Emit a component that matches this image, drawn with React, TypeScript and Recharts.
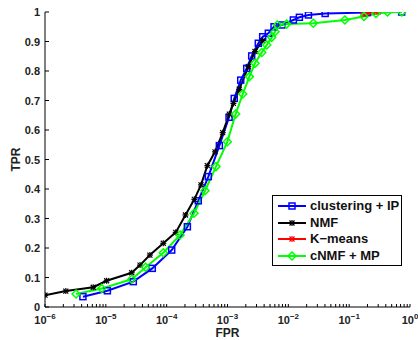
import React from 'react';
import { LineChart, Line, XAxis, YAxis, Legend } from 'recharts';

const blueX = [4.2e-6, 1.06e-5, 2.83e-5, 5.8e-5, 1.21e-4, 2.19e-4, 3.31e-4, 4.84e-4, 7.35e-4, 1.06e-3, 1.29e-3, 1.65e-3, 2.07e-3, 2.5e-3, 3.21e-3, 3.79e-3, 4.69e-3, 5.82e-3, 7.8e-3, 0.0121, 0.0152, 0.0214, 0.0403, 0.2, 0.73];
const blueY = [0.035, 0.055, 0.086, 0.131, 0.193, 0.272, 0.36, 0.442, 0.547, 0.643, 0.707, 0.769, 0.809, 0.851, 0.894, 0.916, 0.928, 0.95, 0.956, 0.973, 0.982, 0.99, 0.995, 0.998, 1.0];

const blackX = [1e-6, 2.2e-6, 6.2e-6, 1.03e-5, 2.66e-5, 3.65e-5, 5.3e-5, 8.8e-5, 1.41e-4, 2.04e-4, 2.85e-4, 3.67e-4, 4.66e-4, 6.24e-4, 8.34e-4, 1.07e-3, 1.25e-3, 1.56e-3, 2.2e-3, 2.83e-3, 3.79e-3];
const blackY = [0.04, 0.054, 0.067, 0.089, 0.116, 0.142, 0.176, 0.216, 0.253, 0.312, 0.365, 0.414, 0.479, 0.526, 0.591, 0.654, 0.69, 0.738, 0.815, 0.866, 0.903];

const redX = [0.17, 0.2, 0.24, 0.3];
const redY = [0.993, 0.997, 1.0, 1.0];

const greenX = [3.24e-6, 8.55e-6, 2.66e-5, 4.52e-5, 8.8e-5, 1.66e-4, 2.82e-4, 4.27e-4, 6.46e-4, 9.93e-4, 1.36e-3, 1.78e-3, 2.29e-3, 2.83e-3, 3.66e-3, 4.42e-3, 5.33e-3, 6.05e-3, 6.6e-3, 9.4e-3, 0.0257, 0.0851, 0.175, 0.276, 0.427, 0.731];
const greenY = [0.044, 0.063, 0.094, 0.135, 0.184, 0.244, 0.318, 0.394, 0.476, 0.56, 0.654, 0.722, 0.781, 0.826, 0.863, 0.888, 0.914, 0.933, 0.956, 0.959, 0.962, 0.973, 0.985, 0.995, 1.0, 1.0];

const seriesNames = ['clustering + IP', 'NMF', 'K\u2212means', 'cNMF + MP'];
const seriesColors = ['#0000ff', '#000000', '#ff0000', '#00ff00'];

const xMajorTicks = [1e-6, 1e-5, 1e-4, 1e-3, 1e-2, 1e-1, 1];
const xMinorMultipliers = [2, 3, 4, 5, 6, 7, 8, 9];
const yTicks = [0, 0.1, 0.2, 0.3, 0.4, 0.5, 0.6, 0.7, 0.8, 0.9, 1];

const xTicks: number[] = [];
xMajorTicks.forEach((d, i) => {
  xTicks.push(d);
  if (i < xMajorTicks.length - 1) xMinorMultipliers.forEach((m) => xTicks.push(m * d));
});

const zip = (xs: number[], ys: number[]) => xs.map((x, i) => ({ x, y: ys[i] }));
const blueData = zip(blueX, blueY);
const blackData = zip(blackX, blackY);
const redData = zip(redX, redY);
const greenData = zip(greenX, greenY);

const FONT = '"Liberation Sans", Arial, Helvetica, sans-serif';

const XTick = (props: any) => {
  const { x, y, payload } = props;
  const lv = Math.log10(payload.value);
  const e = Math.round(lv);
  if (Math.abs(lv - e) > 1e-6) return <g />;
  const exp = e === 0 ? '0' : '\u2212' + Math.abs(e);
  return (
    <text x={x} y={y} textAnchor="middle" fontFamily={FONT} fontWeight="bold" fontSize={11} fill="#222">
      <tspan>10</tspan>
      <tspan dy={-5} fontSize={8}>{exp}</tspan>
    </text>
  );
};

const YTick = (props: any) => {
  const { x, y, payload } = props;
  const v = payload.value;
  const s = v === 0 ? '0' : v === 1 ? '1' : v.toFixed(1);
  return (
    <text x={x} y={y} dy={4} textAnchor="end" fontFamily={FONT} fontWeight="bold" fontSize={11} fill="#222">
      {s}
    </text>
  );
};

const Empty = () => <g />;

const YLabel = (props: any) => {
  const vb = props.viewBox || {};
  const cx = vb.x + 15;
  const cy = vb.y + vb.height / 2;
  return (
    <text x={cx} y={cy} transform={`rotate(-90, ${cx}, ${cy})`} textAnchor="middle" fontFamily={FONT} fontWeight="bold" fontSize={12} fill="#222">
      TPR
    </text>
  );
};

const XLabel = (props: any) => {
  const vb = props.viewBox || {};
  const cx = vb.x + vb.width / 2;
  const cy = vb.y + 30;
  return (
    <text x={cx} y={cy} textAnchor="middle" fontFamily={FONT} fontWeight="bold" fontSize={12} fill="#222">
      FPR
    </text>
  );
};

const squareMark = (cx: number, cy: number, k: string) => (
  <rect key={k} x={cx - 3} y={cy - 3} width={6} height={6} fill="none" stroke="#0000ff" strokeWidth={1.5} />
);
const starMark = (cx: number, cy: number, k: string, color: string) => (
  <g key={k} stroke={color} strokeWidth={1.2}>
    <line x1={cx - 2.5} y1={cy - 2.5} x2={cx + 2.5} y2={cy + 2.5} />
    <line x1={cx - 2.5} y1={cy + 2.5} x2={cx + 2.5} y2={cy - 2.5} />
    <line x1={cx} y1={cy - 3} x2={cx} y2={cy + 3} />
    <line x1={cx - 3} y1={cy} x2={cx + 3} y2={cy} />
  </g>
);
const diamondMark = (cx: number, cy: number, k: string) => (
  <polygon key={k} points={`${cx},${cy - 4} ${cx + 4},${cy} ${cx},${cy + 4} ${cx - 4},${cy}`} fill="none" stroke="#00ff00" strokeWidth={1.5} />
);

const BlueDot = (p: any) => (p.cx == null ? <g key={`b${p.index}`} /> : squareMark(p.cx, p.cy, `b${p.index}`));
const BlackDot = (p: any) => (p.cx == null ? <g key={`k${p.index}`} /> : starMark(p.cx, p.cy, `k${p.index}`, '#000000'));
const RedDot = (p: any) => (p.cx == null ? <g key={`r${p.index}`} /> : starMark(p.cx, p.cy, `r${p.index}`, '#ff0000'));
const GreenDot = (p: any) => (p.cx == null ? <g key={`g${p.index}`} /> : diamondMark(p.cx, p.cy, `g${p.index}`));

const legendMarks = [
  (k: string) => squareMark(15, 8, k),
  (k: string) => starMark(15, 8, k, '#000000'),
  (k: string) => starMark(15, 8, k, '#ff0000'),
  (k: string) => diamondMark(15, 8, k),
];

const LegendBox = () => (
  <div
    style={{
      boxSizing: 'border-box',
      width: 130,
      height: 71,
      border: '1px solid #000',
      background: '#fff',
      padding: '2px 0 0 4px',
      fontFamily: FONT,
      fontWeight: 'bold',
      fontSize: 13,
      color: '#111',
    }}
  >
    {seriesNames.map((n, i) => (
      <div key={n} style={{ display: 'flex', alignItems: 'center', height: 16.5, whiteSpace: 'nowrap' }}>
        <svg width={31} height={16} style={{ flex: 'none' }}>
          <line x1={1} y1={8} x2={29} y2={8} stroke={seriesColors[i]} strokeWidth={2} />
          {legendMarks[i](`lm${i}`)}
        </svg>
        <span style={{ marginLeft: 2, lineHeight: '16px' }}>{n}</span>
      </div>
    ))}
  </div>
);

export default function App() {
  return (
    <div style={{ position: 'absolute', left: 0, top: 0, width: 418, height: 340, background: '#fff' }}>
      <LineChart width={418} height={340} margin={{ top: 12, right: 8, bottom: 3, left: 5 }}>
        <XAxis
          xAxisId="b"
          dataKey="x"
          type="number"
          scale="log"
          domain={[1e-6, 1]}
          ticks={xTicks}
          interval={0}
          height={30}
          tickSize={-3}
          tickMargin={20}
          tick={XTick}
          stroke="#000"
          axisLine={{ stroke: '#000', strokeWidth: 1 }}
          tickLine={{ stroke: '#000' }}
          label={XLabel}
          allowDataOverflow
        />
        <XAxis
          xAxisId="t"
          orientation="top"
          dataKey="x"
          type="number"
          scale="log"
          domain={[1e-6, 1]}
          ticks={xTicks}
          interval={0}
          height={0}
          tickSize={-3}
          tick={Empty}
          axisLine={{ stroke: '#000', strokeWidth: 1 }}
          tickLine={{ stroke: '#000' }}
          allowDataOverflow
        />
        <YAxis
          yAxisId="l"
          type="number"
          domain={[0, 1]}
          ticks={yTicks}
          interval={0}
          width={40}
          tickSize={-4}
          tickMargin={9}
          tick={YTick}
          axisLine={{ stroke: '#000', strokeWidth: 1 }}
          tickLine={{ stroke: '#000' }}
          label={YLabel}
          allowDataOverflow
        />
        <YAxis
          yAxisId="r"
          orientation="right"
          type="number"
          domain={[0, 1]}
          ticks={yTicks}
          interval={0}
          width={0}
          tickSize={-4}
          tick={Empty}
          axisLine={{ stroke: '#000', strokeWidth: 1 }}
          tickLine={{ stroke: '#000' }}
          allowDataOverflow
        />
        <Legend
          layout="horizontal"
          verticalAlign="middle"
          align="center"
          content={LegendBox}
          wrapperStyle={{ left: 272, top: 195, width: 130, height: 71 }}
        />
        <Line xAxisId="b" yAxisId="l" data={blueData} dataKey="y" name={seriesNames[0]} stroke={seriesColors[0]} strokeWidth={2} dot={BlueDot} isAnimationActive={false} />
        <Line xAxisId="b" yAxisId="l" data={blackData} dataKey="y" name={seriesNames[1]} stroke={seriesColors[1]} strokeWidth={2} dot={BlackDot} isAnimationActive={false} />
        <Line xAxisId="b" yAxisId="l" data={redData} dataKey="y" name={seriesNames[2]} stroke={seriesColors[2]} strokeWidth={2} dot={RedDot} isAnimationActive={false} />
        <Line xAxisId="b" yAxisId="l" data={greenData} dataKey="y" name={seriesNames[3]} stroke={seriesColors[3]} strokeWidth={2} dot={GreenDot} isAnimationActive={false} />
      </LineChart>
    </div>
  );
}
